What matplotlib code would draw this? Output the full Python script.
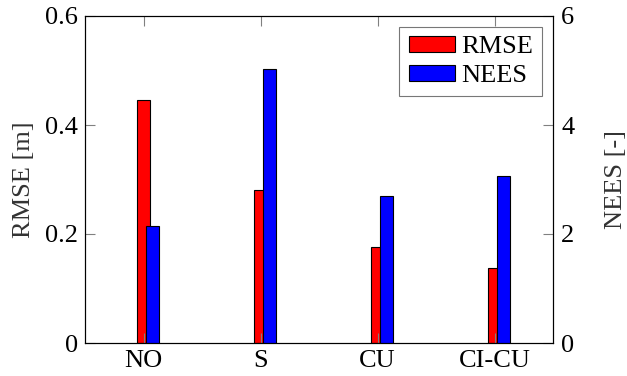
import matplotlib
matplotlib.use("Agg")
import matplotlib.pyplot as plt
import numpy as np

methods = ["NO", "S", "CU", "CI-CU"]
rmse = [0.446, 0.280, 0.176, 0.138]
nees = [2.15, 5.03, 2.69, 3.07]

plt.rcParams["font.family"] = ["Liberation Serif", "DejaVu Serif"]
plt.rcParams["font.size"] = 19

x = np.arange(len(methods))
w = 0.11
shift = 0.075

fig = plt.figure(figsize=(6.27, 3.76), dpi=100)
ax = fig.add_axes([85 / 627, 1 - 343 / 376, 468 / 627, 327 / 376])
ax2 = ax.twinx()

ax.bar(x, rmse, w, color="red", edgecolor="black", linewidth=0.8, label="RMSE")
ax2.bar(x + shift, nees, w, color="blue", edgecolor="black", linewidth=0.8, label="NEES")

ax.set_xlim(-0.5, 3.5)
ax.set_ylim(0, 0.6)
ax2.set_ylim(0, 6)
ax.set_xticks(x)
ax.set_xticklabels(methods)
ax.set_yticks([0, 0.2, 0.4, 0.6])
ax.set_yticklabels(["0", "0.2", "0.4", "0.6"])
ax2.set_yticks([0, 2, 4, 6])
ax2.set_yticklabels(["0", "2", "4", "6"])

ax.tick_params(axis="x", direction="in", top=True, length=7, color="gray", pad=5)
ax.tick_params(axis="y", direction="in", length=7, color="gray", pad=5)
ax2.tick_params(axis="y", direction="in", length=7, color="gray", pad=6)

ax.set_ylabel("RMSE [m]", color="#333333", labelpad=7)
ax2.set_ylabel("NEES [-]", color="#333333", labelpad=22)

h1, l1 = ax.get_legend_handles_labels()
h2, l2 = ax2.get_legend_handles_labels()
leg = ax2.legend(h1 + h2, l1 + l2, loc="upper right", fancybox=False, edgecolor="#555555",
                 handlelength=1.75, handleheight=0.55, borderpad=0.35, labelspacing=0.25,
                 handletextpad=0.25, borderaxespad=0.4)
leg.get_frame().set_linewidth(0.8)

fig.savefig("out.png", dpi=100)
